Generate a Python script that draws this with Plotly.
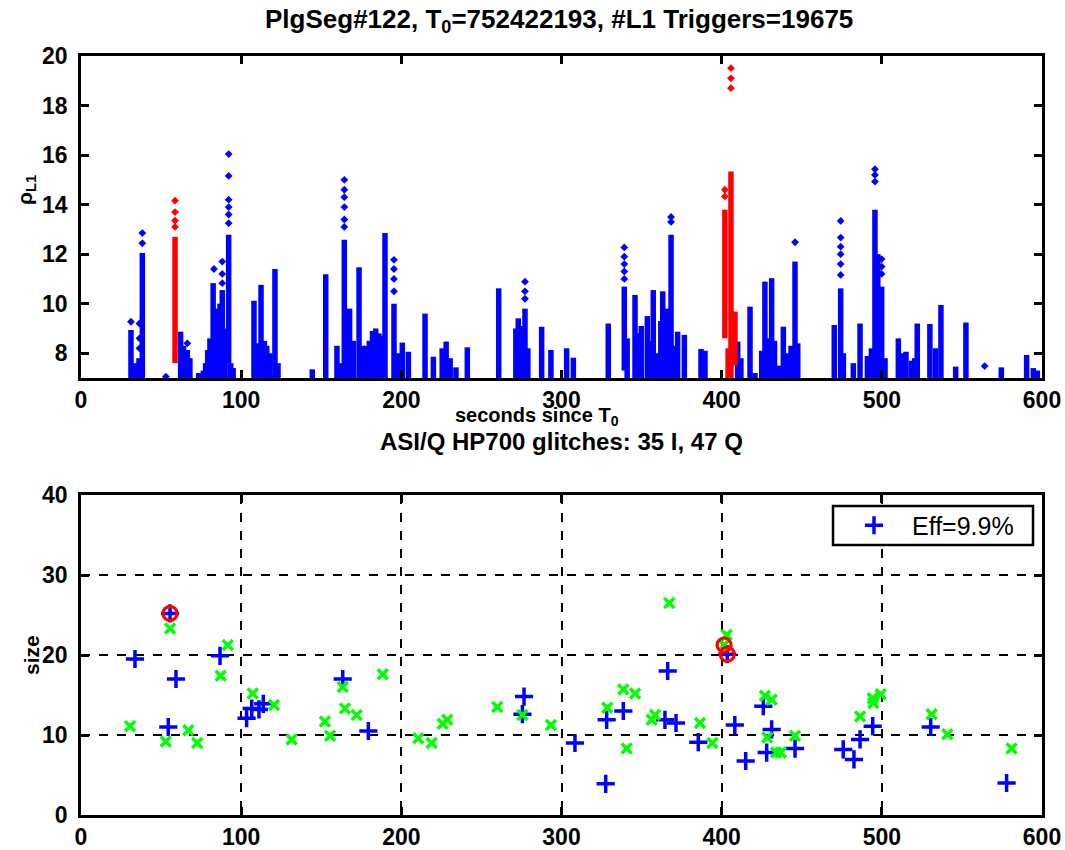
import plotly.graph_objects as go

# ---------------- top panel data (rho_L1 vs seconds) ----------------
# each column of triggers: x position, lowest rho, top of the dense part
blue_x = [31.2, 34.0, 36.2, 38.3, 62.2, 64.0, 66.4, 68.0, 73.5, 76.4, 77.8, 79.1,
          80.5, 82.5, 84.0, 85.5, 86.8, 88.2, 90.0, 92.2, 93.5, 95.0,
          108.0, 110.0, 112.4, 114.5, 116.0, 118.0, 121.1, 123.0, 144.4, 152.8,
          159.8, 162.0, 164.4, 167.7, 170.0, 173.6, 176.3, 178.0, 180.0, 182.0,
          184.0, 186.0, 188.0, 189.8, 195.4, 197.5, 200.6, 204.4,
          214.8, 220.0, 225.5, 228.0, 230.5, 234.1, 241.2, 260.8, 271.5, 273.0,
          275.0, 277.2, 279.0, 287.6, 293.4, 303.2, 307.4, 329.2, 339.2, 341.0,
          345.9, 347.5, 349.8, 353.6, 355.5, 357.3, 360.5, 362.0, 363.2, 365.7,
          366.8, 368.4, 370.5, 372.5, 376.7, 387.1, 389.6, 410.0, 412.0, 417.7,
          420.8, 425.0, 427.0, 429.0, 431.2, 433.0, 435.4, 438.5, 440.5, 443.3,
          445.8, 447.5, 470.3, 474.3, 476.0, 482.2, 486.4, 491.0, 493.5, 495.7,
          497.5, 499.9, 502.0, 510.3, 512.5, 515.1, 518.6, 520.5, 522.1, 530.0,
          533.5, 536.9, 546.1, 552.5, 574.6, 590.4, 594.6, 597.1]
blue_hi = [8.94, 7.6, 7.8, 12.05, 8.87, 8.3, 8.13, 7.8, 7.2, 7.3, 7.6, 8.13,
           8.6, 10.83, 9.8, 9.4, 10.0, 10.55, 9.0, 12.78, 7.6, 7.4,
           10.12, 8.4, 10.76, 8.5, 8.3, 8.0, 11.4, 7.6, 7.35, 11.19,
           8.3, 7.6, 12.58, 9.8, 8.5, 11.47, 8.3, 8.3, 8.5, 8.9,
           9.0, 8.8, 8.7, 12.85, 10.0, 8.0, 8.43, 8.06,
           9.6, 7.86, 8.2, 8.47, 7.8, 7.43, 8.24, 10.62, 9.0, 9.41,
           9.1, 9.8, 8.2, 9.07, 8.13, 8.2, 7.82, 9.2, 10.69, 8.6,
           10.35, 8.8, 9.1, 9.5, 8.5, 10.55, 8.0, 9.3, 10.5, 9.8,
           9.2, 12.78, 8.3, 8.87, 8.74, 8.17, 8.1, 8.47, 7.8, 9.88,
           7.2, 8.1, 10.89, 8.6, 11.03, 8.5, 7.5, 9.07, 8.0, 8.3,
           11.7, 8.4, 9.14, 10.62, 8.0, 7.6, 9.2, 7.89, 8.2, 13.79,
           12.0, 10.69, 7.8, 8.6, 8.0, 8.06, 7.7, 7.8, 9.2, 9.18,
           8.2, 9.95, 7.46, 9.24, 7.43, 7.93, 7.4, 7.3]
blue_lo = [7.0] * len(blue_x)
blue_lo[blue_x.index(92.2)] = 7.6
blue_lo[blue_x.index(339.2)] = 7.3
# isolated blue triggers above the dense parts
blue_out_x = [31.2, 36.5, 36.5, 36.5, 38.3, 38.3, 53.0, 66.4, 83.0, 88.2, 88.2, 88.2,
              92.2, 92.2, 92.2, 92.2, 92.2, 92.2, 164.4, 164.4, 164.4, 164.4, 164.4,
              164.4, 195.4, 195.4, 195.4, 195.4, 277.2, 277.2, 277.2, 339.2, 339.2,
              339.2, 339.2, 339.2, 368.4, 368.4, 445.8, 474.3, 474.3, 474.3, 474.3,
              474.3, 474.3, 495.7, 495.7, 495.7, 499.9, 499.9, 499.9, 564.2]
blue_out_y = [9.27, 8.2, 8.6, 9.2, 12.44, 12.85, 7.05, 8.4, 11.4, 10.83, 11.2, 11.7,
              13.25, 13.6, 13.9, 14.2, 15.16, 16.04, 13.1, 13.4, 13.9, 14.3, 14.6,
              15.0, 10.5, 11.0, 11.4, 11.77, 10.2, 10.5, 10.89, 11.0, 11.3,
              11.6, 11.9, 12.27, 13.3, 13.5, 12.48, 11.16, 11.6, 12.0, 12.3,
              12.67, 13.34, 14.93, 15.2, 15.43, 11.2, 11.5, 11.8, 7.48]

red_x = [58.7, 402.0, 404.0, 405.8, 408.3]
red_lo = [7.6, 8.6, 7.0, 7.0, 7.5]
red_hi = [12.7, 13.79, 8.2, 15.34, 9.68]
red_out_x = [58.7, 58.7, 58.7, 58.7, 402.0, 402.0, 405.8, 405.8, 405.8]
red_out_y = [13.1, 13.35, 13.7, 14.16, 14.33, 14.6, 18.7, 19.1, 19.51]

# ---------------- bottom panel data (glitch size vs seconds) ----------------
i_x = [33.7, 55.6, 59.3, 54.5, 86.8, 103.4, 106.6, 111.1, 113.8, 163.4, 179.4, 276.6,
       275.6, 308.4, 327.6, 328.2, 338.6, 364.6, 371.5, 366.3, 385.4, 403.5, 408.2,
       415.0, 426.0, 431.2, 428.1, 445.8, 475.9, 482.6, 486.4, 494.3, 530.5, 577.9]
i_y = [19.5, 25.2, 17.0, 11.0, 19.9, 12.1, 13.3, 13.2, 13.9, 17.0, 10.5, 14.8,
       12.6, 9.0, 3.9, 11.9, 13.0, 11.9, 11.5, 18.0, 9.1, 20.1, 11.25,
       6.75, 13.6, 10.7, 7.8, 8.3, 8.2, 6.95, 9.45, 11.1, 11.0, 4.0]
q_x = [55.6, 30.6, 52.9, 67.0, 72.6, 91.6, 87.2, 107.2, 120.5, 131.5, 152.3, 155.5,
       163.4, 164.8, 172.1, 188.4, 210.6, 218.9, 225.8, 228.7, 259.9, 275.6, 293.4,
       328.6, 338.6, 345.9, 340.7, 356.3, 358.4, 367.3, 386.5, 394.2, 403.1, 401.5,
       427.0, 431.2, 428.5, 434.0, 437.0, 445.8, 486.4, 494.7, 494.3, 499.3, 531.1,
       540.9, 581.0]
q_y = [23.3, 11.1, 9.2, 10.6, 9.0, 21.25, 17.4, 15.2, 13.75, 9.45, 11.7, 9.9,
       16.0, 13.3, 12.5, 17.6, 9.6, 9.0, 11.4, 11.9, 13.5, 12.5, 11.25,
       13.4, 15.7, 15.2, 8.3, 11.9, 12.5, 26.5, 11.5, 9.0, 22.5, 21.25,
       14.9, 14.4, 9.7, 7.8, 7.8, 9.9, 12.3, 14.0, 14.6, 15.1, 12.6,
       10.1, 8.3]
hit_x = [55.6, 401.5, 403.5]
hit_y = [25.2, 21.25, 20.1]

x_ticks = [0, 100, 200, 300, 400, 500, 600]
top_y_ticks = [8, 10, 12, 14, 16, 18, 20]
bot_y_ticks = [0, 10, 20, 30, 40]

FONT = "Liberation Sans"
W, H = 1065, 850
ML, MR, MT, MB = 81, 23, 56, 35
PW, PH = W - ML - MR, H - MT - MB


def px2paper(px, py):
    return (px - ML) / PW, (H - MB - py) / PH


def columns(xs, lo, hi):
    X, Y = [], []
    for x, a, b in zip(xs, lo, hi):
        X += [x, x, None]
        Y += [a, b, None]
    return X, Y


fig = go.Figure()

bx, by = columns(blue_x, blue_lo, blue_hi)
fig.add_trace(go.Scatter(x=bx, y=by, mode="lines", line=dict(color="#0000ff", width=5.5),
                         xaxis="x", yaxis="y", showlegend=False, hoverinfo="skip"))
fig.add_trace(go.Scatter(x=blue_out_x, y=blue_out_y, mode="markers",
                         marker=dict(symbol="diamond", size=6, color="#0000ff"),
                         xaxis="x", yaxis="y", showlegend=False))
rx, ry = columns(red_x, red_lo, red_hi)
fig.add_trace(go.Scatter(x=rx, y=ry, mode="lines", line=dict(color="#ff0000", width=5.5),
                         xaxis="x", yaxis="y", showlegend=False, hoverinfo="skip"))
fig.add_trace(go.Scatter(x=red_out_x, y=red_out_y, mode="markers",
                         marker=dict(symbol="diamond", size=6, color="#ff0000"),
                         xaxis="x", yaxis="y", showlegend=False))

fig.add_trace(go.Scatter(x=i_x, y=i_y, mode="markers", name="Eff=9.9%",
                         marker=dict(symbol="cross-thin", size=13, color="#0000ff",
                                     line=dict(color="#0000ff", width=3.5)),
                         xaxis="x2", yaxis="y2", showlegend=True))
fig.add_trace(go.Scatter(x=q_x, y=q_y, mode="markers",
                         marker=dict(symbol="x-thin", size=10, color="#00ff00",
                                     line=dict(color="#00ff00", width=3.5)),
                         xaxis="x2", yaxis="y2", showlegend=False))
fig.add_trace(go.Scatter(x=hit_x, y=hit_y, mode="markers",
                         marker=dict(symbol="circle-open", size=14, color="#ff0000",
                                     line=dict(color="#ff0000", width=3.2)),
                         xaxis="x2", yaxis="y2", showlegend=False))

top_dom = [(H - MB - 378) / PH, 1.0]
bot_dom = [0.0, (H - MB - 495) / PH]

tickfont = dict(family=FONT, size=23, color="black", weight="bold")
common_axis = dict(showline=True, linecolor="black", linewidth=2.5, mirror="ticks",
                   ticks="inside", ticklen=8, tickwidth=3, tickcolor="black",
                   tickfont=tickfont, zeroline=False, automargin=False)

lx, ly = px2paper(833, 525.5)
fig.update_layout(
    width=W, height=H, margin=dict(l=ML, r=MR, t=MT, b=MB, autoexpand=False),
    paper_bgcolor="white", plot_bgcolor="white",
    xaxis=dict(domain=[0, 1], anchor="y", range=[0, 600], tickvals=x_ticks,
               showgrid=False, **common_axis),
    yaxis=dict(domain=top_dom, anchor="x", range=[7, 20], tickvals=top_y_ticks,
               showgrid=False, ticklabelstandoff=6, **common_axis),
    xaxis2=dict(domain=[0, 1], anchor="y2", range=[0, 600], tickvals=x_ticks,
                showgrid=True, gridcolor="black", gridwidth=1.5, griddash="dash",
                **common_axis),
    yaxis2=dict(domain=bot_dom, anchor="x2", range=[0, 40], tickvals=bot_y_ticks,
                showgrid=True, gridcolor="black", gridwidth=1.5, griddash="dash",
                ticklabelstandoff=6, **common_axis),
    legend=dict(x=lx + 3 / PW, y=ly, xanchor="left", yanchor="middle",
                bgcolor="rgba(0,0,0,0)", borderwidth=0,
                font=dict(family=FONT, size=25, color="black"),
                itemwidth=66),
    showlegend=True,
)

# legend frame (white box covering the grid, legend entry is drawn on top)
x0, y0 = px2paper(833, 545)
x1, y1 = px2paper(1033, 506)
fig.add_shape(type="rect", xref="paper", yref="paper", x0=x0, y0=y0, x1=x1, y1=y1,
              line=dict(color="black", width=2.5), fillcolor="white",
              layer="above")


def label(text, px, py, size=19, angle=0, bold=True):
    xp, yp = px2paper(px, py)
    fig.add_annotation(text=text, x=xp, y=yp, xref="paper", yref="paper",
                       xanchor="center", yanchor="middle", showarrow=False,
                       textangle=angle,
                       font=dict(family=FONT, size=size, color="black",
                                 weight="bold" if bold else "normal"))


label("PlgSeg#122, T<sub>0</sub>=752422193, #L1 Triggers=19675", 559, 21, size=26)
label("seconds since T<sub>0</sub>", 537, 416, size=20)
label("ASI/Q HP700 glitches: 35 I, 47 Q", 561, 441, size=24)
label("ρ<sub>L1</sub>", 26, 190, size=21, angle=-90)
label("size", 31, 655, size=21, angle=-90)

fig.write_html("out.html")
